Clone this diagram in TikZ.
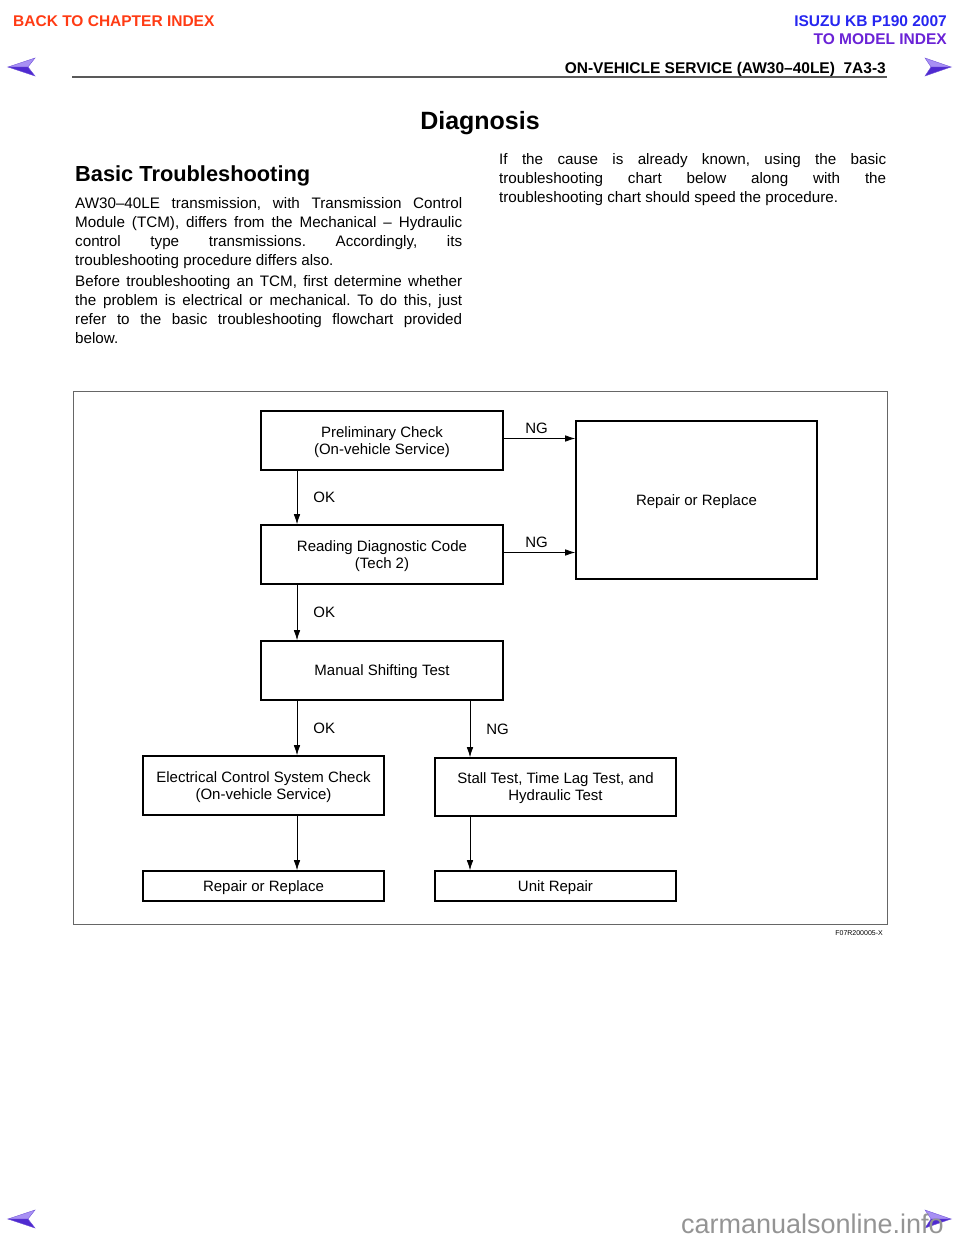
\documentclass[tikz,border=0pt]{standalone}
\usepackage{fontspec}
\setmainfont{Liberation Sans}
\usetikzlibrary{arrows.meta}

\definecolor{backred}{HTML}{FF3B14}
\definecolor{isuzublue}{HTML}{2626F0}
\definecolor{modelpurple}{HTML}{6A22D6}
\definecolor{arrowlight}{HTML}{A890F4}
\definecolor{arrowdark}{HTML}{4F2AD0}

\newcommand{\bodyfont}{\fontsize{15.2}{19}\selectfont}
\newcommand{\chartfont}{\fontsize{15}{17}\selectfont}
\frenchspacing

\begin{document}
\begin{tikzpicture}[x=1pt,y=-1pt]
\tikzset{box/.style={draw,line width=1.6pt,inner sep=0pt,text depth=0pt,align=center,font=\chartfont},
	flow/.style={-{Latex[length=10pt,width=6.5pt]},line width=0.7pt},
	lbl/.style={inner sep=0pt,font=\chartfont},
	para/.style={anchor=base west,inner sep=0pt,text width=387pt,align=justify,font=\bodyfont},
	navarrow/.style={draw=arrowdark!80,line width=0.4pt}}
\useasboundingbox (0,0) rectangle (960,1242);

% page head
\node[anchor=base west,inner sep=0pt,text=backred,font=\bfseries\fontsize{15.5}{18}\selectfont] (backidx) at (13,26) {BACK TO CHAPTER INDEX};
\node[anchor=base east,inner sep=0pt,text=isuzublue,font=\bfseries\fontsize{15.5}{18}\selectfont] (isuzu) at (947,26) {ISUZU KB P190 2007};
\node[anchor=base east,inner sep=0pt,text=modelpurple,font=\bfseries\fontsize{15.5}{18}\selectfont] (modelidx) at (947,44) {TO MODEL INDEX};
\node[anchor=base east,inner sep=0pt,font=\bfseries\fontsize{15.5}{18}\selectfont] (pagehead) at (886,73) {ON-VEHICLE SERVICE (AW30–40LE)\ \ 7A3-3};
\draw[line width=1.6pt,black!65] (72,77) -- (887,77);

% navigation arrows
\foreach \y in {67,1219}{%
	\fill[arrowlight,navarrow] (8,\y) -- (35,{\y-9}) -- (28,\y) -- cycle;
	\fill[arrowdark,navarrow] (8,\y) -- (28,\y) -- (35,{\y+9}) -- cycle;
	\fill[arrowlight,navarrow] (951,\y) -- (925,{\y-9}) -- (931,\y) -- cycle;
	\fill[arrowdark,navarrow] (951,\y) -- (931,\y) -- (925,{\y+9}) -- cycle;
}%

% text
\node[anchor=base,inner sep=0pt,font=\bfseries\fontsize{25}{30}\selectfont] (title) at (480,129) {Diagnosis};
\node[anchor=base west,inner sep=0pt,font=\bfseries\fontsize{21.8}{26}\selectfont] (basic) at (75,181) {Basic Troubleshooting};
\node[para] (para1) at (75,208) {AW30–40LE transmission, with Transmission Control\linebreak
	Module (TCM), differs from the Mechanical – Hydraulic\linebreak
	control type transmissions. Accordingly, its\linebreak
	troubleshooting procedure differs also.};
\node[para] (para2) at (75,286) {Before troubleshooting an TCM, first determine whether\linebreak
	the problem is electrical or mechanical. To do this, just\linebreak
	refer to the basic troubleshooting flowchart provided\linebreak
	below.};
\node[para] (para3) at (499,164) {If the cause is already known, using the basic\linebreak
	troubleshooting chart below along with the\linebreak
	troubleshooting chart should speed the procedure.};

% chart
\draw[black!60,line width=0.8pt] (73,391) rectangle (887,924);
\node[anchor=base east,inner sep=0pt,font=\fontsize{7}{8}\selectfont] (figid) at (883,935) {F07R200005-X};

\node[box,minimum width=242pt,minimum height=59pt] (prelim) at (382,440.5) {Preliminary Check\\(On-vehicle Service)};
\node[box,minimum width=242pt,minimum height=59pt] (reading) at (382,554.5) {Reading Diagnostic Code\\(Tech 2)};
\node[box,minimum width=242pt,minimum height=59pt] (manual) at (382,670.5) {Manual Shifting Test};
\node[box,minimum width=241pt,minimum height=158pt] (repair) at (696.5,500) {Repair or Replace};
\node[box,minimum width=241pt,minimum height=59pt] (elec) at (263.5,785.5) {Electrical Control System Check\\(On-vehicle Service)};
\node[box,minimum width=241pt,minimum height=58pt] (stall) at (555.5,787) {Stall Test, Time Lag Test, and\\Hydraulic Test};
\node[box,minimum width=241pt,minimum height=30pt] (repairtwo) at (263.5,886) {Repair or Replace};
\node[box,minimum width=241pt,minimum height=30pt] (unit) at (555.5,886) {Unit Repair};

\coordinate (colL) at (297,0);
\coordinate (colR) at (470,0);

\draw[flow] (prelim.east) ++(0,-2) coordinate (ngone) -- (ngone -| repair.west) node[midway,above=5pt,xshift=-3pt,lbl] (ngonelbl) {NG};
\draw[flow] (reading.east) ++(0,-2) coordinate (ngtwo) -- (ngtwo -| repair.west) node[midway,above=5pt,xshift=-3pt,lbl] (ngtwolbl) {NG};

\foreach \a/\b/\c/\t in {prelim/reading/colL/OK,reading/manual/colL/OK,manual/elec/colL/OK,manual/stall/colR/NG}{%
	\draw[flow] (\a.south -| \c) -- (\b.north -| \c) node[midway,right=16pt,lbl] (\a\b lbl) {\t};
}%
\draw[flow] (elec.south -| colL) -- (repairtwo.north -| colL);
\draw[flow] (stall.south -| colR) -- (unit.north -| colR);

% watermark
\node[anchor=base east,inner sep=0pt,text=black!42,font=\fontsize{27}{30}\selectfont] (watermark) at (944,1233) {carmanualsonline.info};
\end{tikzpicture}
\end{document}
